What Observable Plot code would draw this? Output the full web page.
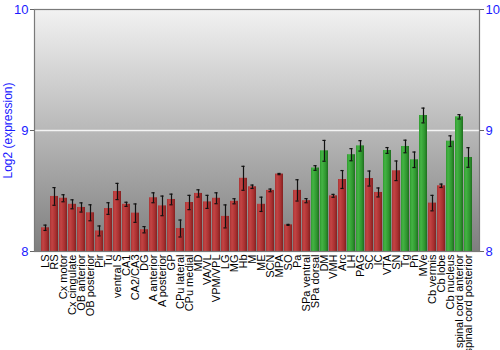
<!DOCTYPE html>
<html>
<head>
<meta charset="utf-8">
<script src="https://cdn.jsdelivr.net/npm/d3@7"></script>
<script src="https://cdn.jsdelivr.net/npm/@observablehq/plot@0.6"></script>
<style>
  body { margin: 0; background: #fff; }
  svg { display: block; }
</style>
</head>
<body>
<div id="chart"></div>
<script>
const regions = ["LS","RS","Cx motor","Cx cingulate","OB anterior","OB posterior","Pir","Tu","ventral S","CA1","CA2/CA3","DG","A anterior","A posterior","GP","CPu lateral","CPu medial","MD","VA/VL","VPM/VPL","LG","MG","Hb","M","ME","SCN","MPA","SO","Pa","SPa ventral","SPa dorsal","DM","VMH","Arc","LH","PAG","SC","IC","VTA","SN","Tg","Pn","MVe","Cb vermis","Cb lobe","Cb nucleus","spinal cord anterior","spinal cord posterior"];
const expression = [8.196,8.455,8.44,8.39,8.364,8.32,8.17,8.355,8.496,8.39,8.317,8.18,8.444,8.377,8.43,8.19,8.405,8.48,8.41,8.44,8.29,8.415,8.605,8.535,8.39,8.505,8.64,8.22,8.505,8.42,8.69,8.832,8.46,8.595,8.80,8.873,8.603,8.488,8.835,8.667,8.868,8.758,9.124,8.40,8.543,8.912,9.113,8.777];
const stderr = [0.022,0.073,0.029,0.037,0.038,0.066,0.041,0.048,0.067,0.017,0.076,0.026,0.041,0.081,0.044,0.070,0.059,0.030,0.054,0.045,0.095,0.021,0.099,0.014,0.059,0.011,0.005,0.004,0.088,0.017,0.019,0.086,0.012,0.074,0.050,0.043,0.062,0.037,0.024,0.081,0.052,0.064,0.061,0.064,0.014,0.044,0.018,0.081];
const highlighted = ["SPa dorsal","DM","LH","PAG","VTA","Tg","Pn","MVe","Cb nucleus","spinal cord anterior","spinal cord posterior"];
const yTicks = [8, 9, 10];

const data = regions.map((r, i) => ({
  region: r,
  value: expression[i],
  lo: expression[i] - stderr[i],
  hi: expression[i] + stderr[i],
  fill: highlighted.includes(r) ? "url(#gradGreen)" : "url(#gradRed)"
}));

function defs() {
  const ns = "http://www.w3.org/2000/svg";
  const g = document.createElementNS(ns, "defs");
  function lin(id, stops, vertical) {
    const lg = document.createElementNS(ns, "linearGradient");
    lg.setAttribute("id", id);
    lg.setAttribute("x1", "0"); lg.setAttribute("y1", "0");
    lg.setAttribute("x2", vertical ? "0" : "1"); lg.setAttribute("y2", vertical ? "1" : "0");
    for (const [o, c] of stops) {
      const s = document.createElementNS(ns, "stop");
      s.setAttribute("offset", o); s.setAttribute("stop-color", c);
      lg.appendChild(s);
    }
    g.appendChild(lg);
  }
  lin("gradBg", [["0%", "#f2f2f2"], ["100%", "#7e7e7e"]], true);
  lin("gradRed", [["0%", "#a83434"], ["25%", "#c44444"], ["70%", "#a83030"], ["100%", "#842020"]], false);
  lin("gradGreen", [["0%", "#2f9a2f"], ["25%", "#44b444"], ["70%", "#2f962f"], ["100%", "#1f6e1f"]], false);
  return g;
}

const blue = "#1a1aff";

const chart = Plot.plot({
  width: 500,
  height: 350,
  marginLeft: 34,
  marginRight: 21,
  marginTop: 9,
  marginBottom: 99,
  style: { fontFamily: "Liberation Sans, Arial, sans-serif", background: "#fff" },
  x: { domain: regions, padding: 0.1, label: null },
  y: { domain: [8, 10], label: null },
  color: { type: "identity" },
  marks: [
    defs,
    Plot.frame({ fill: "url(#gradBg)", stroke: null }),
    Plot.ruleY([9], { stroke: "#f4f4f4", strokeWidth: 1.5 }),
    Plot.barY(data, { x: "region", y1: 8, y2: "value", fill: "fill" }),
    Plot.ruleX(data, { x: "region", y1: "lo", y2: "hi", stroke: "#111", strokeWidth: 1.2 }),
    Plot.tickY(data, { x: "region", y: "lo", stroke: "#111", strokeWidth: 1.2, insetLeft: 2.4, insetRight: 2.4 }),
    Plot.tickY(data, { x: "region", y: "hi", stroke: "#111", strokeWidth: 1.2, insetLeft: 2.4, insetRight: 2.4 }),
    Plot.frame({ stroke: "#7a7a7a", strokeWidth: 1.2 }),
    Plot.axisY({ anchor: "left", ticks: yTicks, tickFormat: "d", tickSize: 4, tickPadding: 2, stroke: "#666", color: blue, fontSize: 13, label: null }),
    Plot.axisY({ anchor: "right", ticks: yTicks, tickFormat: "d", tickSize: 4, tickPadding: 2, stroke: "#666", color: blue, fontSize: 13, label: null }),
    Plot.axisX({ tickSize: 0, tickRotate: -90, tickPadding: 3, fontSize: 11, color: "#000", label: null }),
    Plot.text(["Log2 (expression)"], { frameAnchor: "left", textAnchor: "middle", dx: -26, rotate: -90, fill: blue, fontSize: 12 })
  ]
});
document.getElementById("chart").appendChild(chart);
</script>
</body>
</html>
